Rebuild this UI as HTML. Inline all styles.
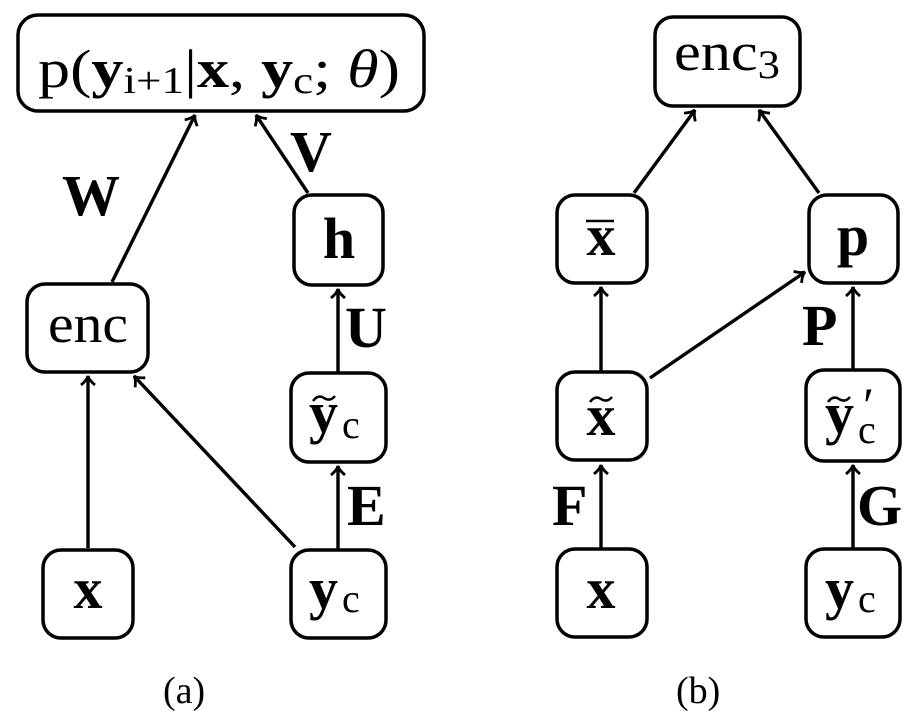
<!DOCTYPE html>
<html><head><meta charset="utf-8"><style>
html,body{margin:0;padding:0;background:#fff;}
svg{display:block;}
text{font-family:"Liberation Serif","DejaVu Serif",serif;fill:#000;}
.b{font-weight:bold;}
</style></head><body>
<svg width="912" height="725" viewBox="0 0 912 725" xmlns="http://www.w3.org/2000/svg">
<defs>
<marker id="a" markerWidth="16" markerHeight="16" refX="12" refY="8" orient="auto" markerUnits="userSpaceOnUse">
<path d="M3,1 Q8,7 12,8 Q8,9 3,15" fill="none" stroke="#000" stroke-width="2.8"/>
</marker>
</defs>
<g fill="none" stroke="#000" stroke-width="3.5">
<rect x="18" y="15" width="406" height="96" rx="20"/>
<rect x="27" y="284" width="121" height="88" rx="18"/>
<rect x="294" y="195" width="89" height="90" rx="18"/>
<rect x="291" y="373" width="95" height="89" rx="18"/>
<rect x="291" y="550" width="95" height="88" rx="18"/>
<rect x="43" y="550" width="90" height="88" rx="18"/>
<rect x="655" y="17" width="145" height="89" rx="18"/>
<rect x="557" y="195" width="90" height="88" rx="18"/>
<rect x="809" y="195" width="89" height="88" rx="18"/>
<rect x="557" y="372" width="90" height="88" rx="18"/>
<rect x="806" y="370" width="94" height="91" rx="18"/>
<rect x="557" y="549" width="90" height="88" rx="18"/>
<rect x="806" y="549" width="94" height="88" rx="18"/>
</g>
<g stroke="#000" stroke-width="3.4" fill="none" marker-end="url(#a)">
<line x1="112" y1="282" x2="195" y2="115"/>
<line x1="308" y1="193" x2="256" y2="115"/>
<line x1="338" y1="373" x2="338" y2="289"/>
<line x1="88" y1="548" x2="88" y2="376"/>
<line x1="295" y1="547" x2="134" y2="376"/>
<line x1="338" y1="550" x2="338" y2="466"/>
<line x1="634" y1="193" x2="695" y2="110"/>
<line x1="819" y1="193" x2="759" y2="110"/>
<line x1="601" y1="372" x2="601" y2="287"/>
<line x1="650" y1="378" x2="805" y2="272"/>
<line x1="853" y1="370" x2="853" y2="287"/>
<line x1="601" y1="549" x2="601" y2="465"/>
<line x1="853" y1="549" x2="853" y2="465"/>
</g>
<g fill="none" stroke="#000" stroke-width="2.5">
<path d="M313,401 Q318,394 324,398 Q330,402 335,396"/>
<path d="M590,402 Q595,395 601,399 Q607,403 612,397"/>
<path d="M828,402 Q833,395 839,399 Q845,403 850,397"/>
<line x1="586" y1="221" x2="614" y2="221"/>
</g>
<text x="38" y="87" font-size="54" textLength="362" lengthAdjust="spacingAndGlyphs">p(<tspan class="b">y</tspan><tspan font-size="38" dy="6">i+1</tspan><tspan dy="-6">|</tspan><tspan class="b">x</tspan>, <tspan class="b">y</tspan><tspan font-size="38" dy="6">c</tspan><tspan dy="-6">; </tspan><tspan font-style="italic">θ</tspan>)</text>
<text x="88" y="342" font-size="54" text-anchor="middle" textLength="80" lengthAdjust="spacingAndGlyphs">enc</text>
<text x="339" y="258" font-size="58" text-anchor="middle" class="b">h</text>
<text x="88" y="608" font-size="58" text-anchor="middle" class="b">x</text>
<text x="309" y="432" font-size="58" class="b">y</text><text x="342" y="438" font-size="40">c</text>
<text x="309" y="608" font-size="58" class="b">y</text><text x="342" y="612" font-size="40">c</text>
<text x="62" y="215" font-size="58" class="b">W</text>
<text x="290" y="171" font-size="58" class="b">V</text>
<text x="345" y="347" font-size="58" class="b">U</text>
<text x="347" y="525" font-size="58" class="b">E</text>
<text x="163" y="703" font-size="38">(a)</text>
<text x="674" y="70" font-size="54" textLength="106" lengthAdjust="spacingAndGlyphs">enc<tspan font-size="40" dy="8">3</tspan></text>
<text x="601" y="255" font-size="58" text-anchor="middle" class="b">x</text>
<text x="853" y="255" font-size="58" text-anchor="middle" class="b">p</text>
<text x="601" y="435" font-size="58" text-anchor="middle" class="b">x</text>
<text x="825" y="433" font-size="58" class="b">y</text><text x="858" y="443" font-size="40">c</text>
<text x="860" y="422" font-size="50" font-style="italic">′</text>
<text x="601" y="608" font-size="58" text-anchor="middle" class="b">x</text>
<text x="825" y="608" font-size="58" class="b">y</text><text x="858" y="612" font-size="40">c</text>
<text x="802" y="345" font-size="58" class="b">P</text>
<text x="552" y="525" font-size="58" class="b">F</text>
<text x="857" y="525" font-size="58" class="b">G</text>
<text x="676" y="703" font-size="38">(b)</text>
</svg>
</body></html>
